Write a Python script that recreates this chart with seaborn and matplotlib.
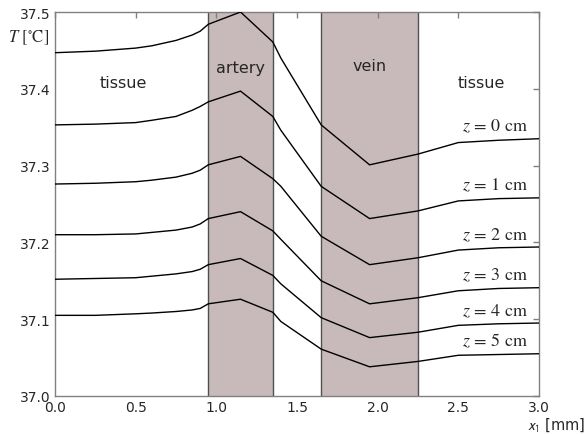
import numpy as np
import pandas as pd
import seaborn as sns
import matplotlib.pyplot as plt

# x positions (mm) of the computed points
x_mm = [0.0, 0.25, 0.5, 0.6, 0.75, 0.85, 0.9, 0.95, 1.15, 1.35, 1.4, 1.65, 1.95, 2.25, 2.5, 2.75, 3.0]

# temperature profiles, one per depth z
T_z0 = [37.447, 37.449, 37.453, 37.456, 37.463, 37.470, 37.475, 37.484, 37.500, 37.461, 37.440, 37.353, 37.301, 37.315, 37.330, 37.333, 37.335]
T_z1 = [37.353, 37.354, 37.356, 37.359, 37.364, 37.372, 37.377, 37.383, 37.397, 37.364, 37.346, 37.273, 37.231, 37.241, 37.254, 37.257, 37.258]
T_z2 = [37.276, 37.277, 37.279, 37.281, 37.285, 37.290, 37.294, 37.301, 37.312, 37.283, 37.273, 37.208, 37.171, 37.180, 37.190, 37.193, 37.194]
T_z3 = [37.210, 37.210, 37.211, 37.213, 37.216, 37.220, 37.224, 37.231, 37.240, 37.215, 37.204, 37.150, 37.120, 37.128, 37.137, 37.140, 37.141]
T_z4 = [37.152, 37.153, 37.154, 37.156, 37.159, 37.162, 37.165, 37.171, 37.179, 37.157, 37.146, 37.102, 37.076, 37.083, 37.092, 37.094, 37.095]
T_z5 = [37.105, 37.105, 37.107, 37.108, 37.110, 37.112, 37.114, 37.120, 37.126, 37.109, 37.097, 37.061, 37.038, 37.045, 37.053, 37.054, 37.055]

depths = [0, 1, 2, 3, 4, 5]
profiles = [T_z0, T_z1, T_z2, T_z3, T_z4, T_z5]

artery = (0.95, 1.35)
vein = (1.65, 2.25)

rows = []
for z, T in zip(depths, profiles):
    for xi, ti in zip(x_mm, T):
        rows.append({'x': xi, 'T': ti, 'z': z})
df = pd.DataFrame(rows)

sns.set_style('white')
plt.rcParams['font.family'] = ['DejaVu Sans']
plt.rcParams['mathtext.fontset'] = 'stix'

fig = plt.figure(figsize=(5.87, 4.35), dpi=100)
ax = fig.add_axes([0.0937, 0.0874, 0.8245, 0.8827])

band_color = '#c8baba'
for lo, hi in (artery, vein):
    ax.axvspan(lo, hi, color=band_color, lw=0, zorder=0)
    ax.axvline(lo, color='#505050', lw=1, zorder=1)
    ax.axvline(hi, color='#505050', lw=1, zorder=1)

sns.lineplot(data=df, x='x', y='T', hue='z', palette=['black'] * 6,
             legend=False, lw=1.0, ax=ax, zorder=3)

ax.set_xlim(0, 3)
ax.set_ylim(37.0, 37.5)
ax.set_xticks([0, 0.5, 1.0, 1.5, 2.0, 2.5, 3.0])
ax.set_yticks([37.0, 37.1, 37.2, 37.3, 37.4, 37.5])
ax.xaxis.set_major_formatter(plt.FormatStrFormatter('%.1f'))
ax.yaxis.set_major_formatter(plt.FormatStrFormatter('%.1f'))
ax.tick_params(direction='in', length=4, width=1, color='#808080',
               top=True, right=True, labelsize=10, pad=3)
for s in ax.spines.values():
    s.set_color('#808080')
    s.set_linewidth(1)
ax.set_xlabel('')
ax.set_ylabel('')

# region names
ax.text(0.424, 37.408, 'tissue', fontsize=11.5, ha='center', va='center')
ax.text(1.147, 37.428, 'artery', fontsize=11.5, ha='center', va='center')
ax.text(1.95, 37.430, 'vein', fontsize=11.5, ha='center', va='center')
ax.text(2.645, 37.408, 'tissue', fontsize=11.5, ha='center', va='center')

# depth labels
for z, T in zip(depths, profiles):
    ax.text(2.934, T[-1] + 0.0105, r'$z\,=\,%d\ \mathrm{cm}$' % z, fontsize=13,
            ha='right', va='baseline')

fig.text(0.014, 0.913, r'$T\ [\mathrm{{}^{\circ}C}]$', fontsize=12,
         ha='left', va='center')
fig.text(0.997, 0.022, r'$\mathsf{x}_{\mathsf{1}}$ [mm]', fontsize=10.5,
         ha='right', va='center')

fig.savefig('out.png', dpi=100)
